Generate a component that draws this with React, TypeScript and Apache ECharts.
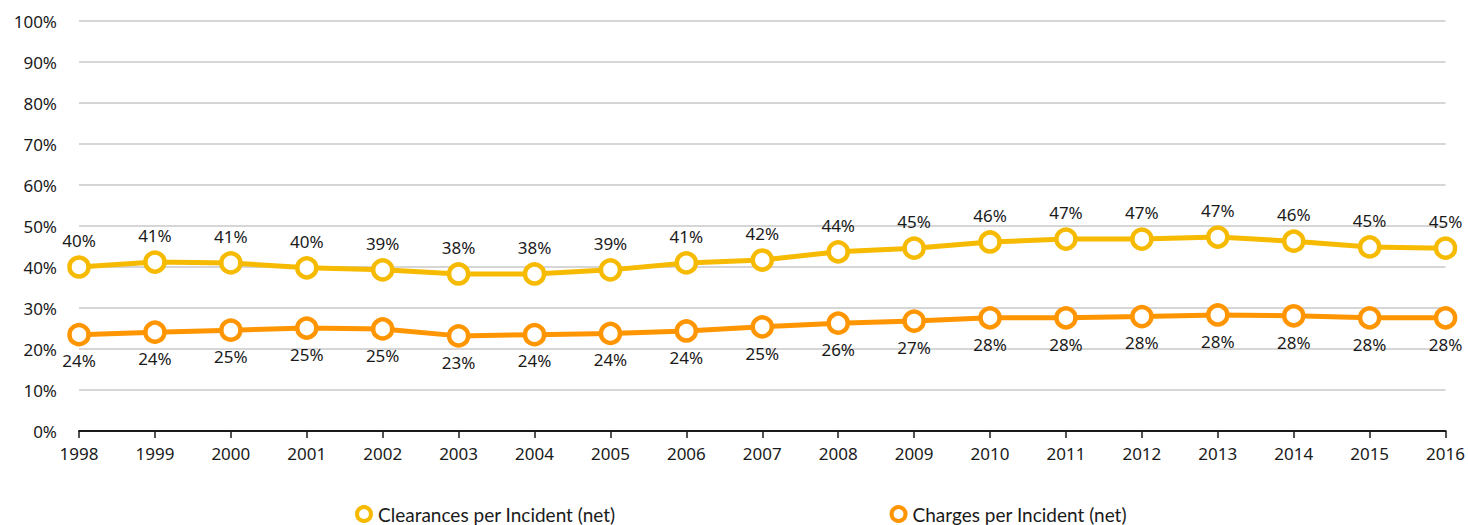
import React, { useEffect, useRef } from "react";
import * as echarts from "echarts";

const years = ["1998","1999","2000","2001","2002","2003","2004","2005","2006","2007","2008","2009","2010","2011","2012","2013","2014","2015","2016"];
const clearances = [40.0, 41.2, 41.0, 39.8, 39.3, 38.3, 38.3, 39.3, 41.0, 41.7, 43.7, 44.6, 46.1, 46.8, 46.8, 47.3, 46.3, 44.9, 44.6];
const charges = [23.5, 24.1, 24.6, 25.1, 24.9, 23.2, 23.5, 23.8, 24.4, 25.4, 26.3, 26.8, 27.6, 27.6, 27.9, 28.3, 28.1, 27.6, 27.6];
const seriesNames = ["Clearances per Incident (net)", "Charges per Incident (net)"];
const colors = ["#F6BA00", "#FF9500"];

const FONT = "'Noto Sans', sans-serif";

export default function App() {
  const ref = useRef<HTMLDivElement>(null);
  useEffect(() => {
    if (!ref.current) return;
    const chart = echarts.init(ref.current, null, { renderer: "svg" });
    const mk = (name: string, data: number[], color: string, pos: "top" | "bottom") => ({
      name,
      type: "line",
      data,
      symbol: "circle",
      symbolSize: 19,
      showAllSymbol: true,
      lineStyle: { color, width: 5 },
      itemStyle: { color: "#ffffff", borderColor: color, borderWidth: 4.5 },
      label: {
        show: true,
        position: pos,
        distance: 6,
        color: "#1a1a1a",
        fontSize: 17,
        fontFamily: FONT,
        formatter: (p: any) => Math.round(p.value) + "%",
      },
      emphasis: { disabled: true },
    });
    chart.setOption({
      animation: false,
      grid: { left: 79, right: 21, top: 21, bottom: 94, containLabel: false },
      legend: {
        top: 503,
        left: 355,
        padding: 0,
        itemGap: 274,
        itemWidth: 18,
        itemHeight: 14,
        icon: "circle",
        textStyle: { fontSize: 19, lineHeight: 22, color: "#1a1a1a", fontFamily: "Lato, sans-serif" },
        data: seriesNames.map((n, i) => ({
          name: n,
          itemStyle: { color: "#fff", borderColor: colors[i], borderWidth: 4 },
        })),
      },
      xAxis: {
        type: "category",
        data: years,
        boundaryGap: false,
        axisLine: { lineStyle: { color: "#1a1a1a", width: 2 } },
        axisTick: { show: true, length: 7, lineStyle: { color: "#1a1a1a", width: 1.5 } },
        axisLabel: { color: "#1a1a1a", fontSize: 17, fontFamily: FONT, margin: 14 },
        splitLine: { show: false },
      },
      yAxis: {
        type: "value",
        min: 0,
        max: 100,
        interval: 10,
        axisLine: { show: false },
        axisTick: { show: false },
        axisLabel: { color: "#1a1a1a", fontSize: 17, fontFamily: FONT, margin: 22, formatter: "{value}%" },
        splitLine: { lineStyle: { color: "#c8c8c8", width: 1.5 } },
      },
      series: [
        mk(seriesNames[0], clearances, colors[0], "top"),
        mk(seriesNames[1], charges, colors[1], "bottom"),
      ],
    });
    return () => chart.dispose();
  }, []);
  return <div ref={ref} style={{ position: "absolute", left: 0, top: 0, width: 1468, height: 525 }} />;
}
